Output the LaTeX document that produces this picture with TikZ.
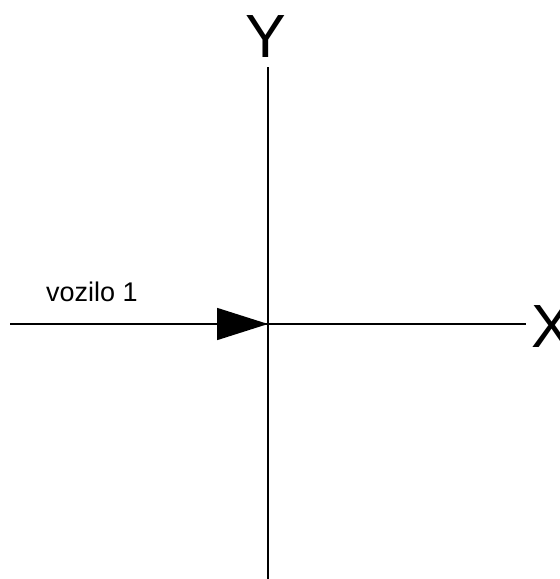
\documentclass[tikz,border=0pt]{standalone}
\usepackage{fontspec}
\setmainfont{Liberation Sans}
\usetikzlibrary{arrows.meta}
\begin{document}
\begin{tikzpicture}[x=1pt,y=-1pt,
  axis/.style={line width=1.6pt,black},
  biglabel/.style={font=\fontsize{61}{61}\selectfont,inner sep=0pt},
  smalllabel/.style={font=\fontsize{27}{27}\selectfont,inner sep=0pt}]
\useasboundingbox (0,0) rectangle (560,579);
\coordinate (o) at (268,324);
\coordinate (xl) at (10,324);
\coordinate (xr) at (526,324);
\coordinate (yt) at (268,67);
\coordinate (yb) at (268,579);
\draw[axis] (yt) -- (yb);
\draw[axis] (xl) -- (xr);
\draw[axis,-{Triangle[length=51pt,width=32pt]}] (xl) -- (o);
\node[biglabel,anchor=base] (ylab) at (266,57) {Y};
\node[biglabel,anchor=base west] (xlab) at (531,347) {X};
\node[smalllabel,anchor=base west] (veh) at (46,301) {vozilo 1};
\end{tikzpicture}
\end{document}
